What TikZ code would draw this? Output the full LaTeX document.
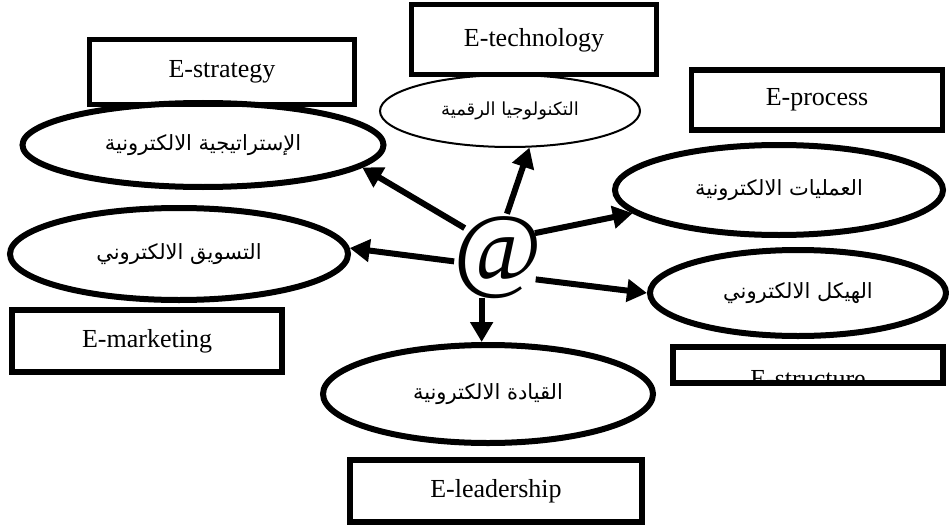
\documentclass[tikz,border=0pt]{standalone}
\usepackage{fontspec}
\setmainfont{Liberation Serif}
\newfontfamily\arabicfont[Script=Arabic]{DejaVu Sans}
\TeXXeTstate=1
\usetikzlibrary{positioning,arrows.meta,shapes.geometric}
\tikzset{
  ebox/.style={draw=black, line width=5.5pt, inner sep=0pt, font=\fontsize{26}{30}\selectfont},
  eell/.style={ellipse, draw=black, line width=6pt, inner sep=0pt, font={\arabicfont\fontsize{21}{25}\selectfont}},
  arr/.style={-{Triangle[length=20pt,width=22pt]}, line width=6pt, shorten <=4pt},
}

\begin{document}
\begin{tikzpicture}[x=1pt,y=-1pt]
    \useasboundingbox (0,0) rectangle (949,524);
    % english boxes
    \node[ebox, minimum width=265pt, minimum height=65pt] (estrat) at (222,72) {E-strategy};
    \node[ebox, line width=5pt, minimum width=245pt, minimum height=70pt] (etech) at (534,40) {E-technology};
    \node[ebox, minimum width=251pt, minimum height=60pt] (eproc) at (817,100) {E-process};
    \node[ebox, minimum width=270pt, minimum height=62pt] (emark) at (147,341) {E-marketing};
    \node[ebox, minimum width=292pt, minimum height=62pt] (elead) at (496,491) {E-leadership};
    \node[ebox, minimum width=270pt, minimum height=36pt] (estruc) at (808,365) {};
    \begin{scope}
      \clip (estruc.south west) rectangle (estruc.north east);
      \node[font=\fontsize{26}{30}\selectfont, anchor=base] (estructxt) at (808,387) {E-structure};
    \end{scope}
    % arabic ellipses
    \node[eell, minimum width=361pt, minimum height=84pt] (strat) at (203,145) {\beginR الإستراتيجية الالكترونية\endR};
    \node[eell, line width=2pt, minimum width=260pt, minimum height=72pt, font={\arabicfont\fontsize{18}{21}\selectfont}] (tech) at (510,111) {\beginR التكنولوجيا الرقمية\endR};
    \node[eell, minimum width=328pt, minimum height=90pt] (proc) at (779,190) {\beginR العمليات الالكترونية\endR};
    \node[eell, minimum width=296pt, minimum height=86pt] (struc) at (798,293) {\beginR الهيكل الالكتروني\endR};
    \node[eell, minimum width=338pt, minimum height=92pt] (mark) at (179,254) {\beginR التسويق الالكتروني\endR};
    \node[eell, minimum width=330pt, minimum height=98pt] (lead) at (488,394) {\beginR القيادة الالكترونية\endR};
    % centre
    \node[circle, inner sep=0pt, minimum size=80pt, font=\fontsize{96}{96}\selectfont\itshape] (atsign) at (498,257)
      {\smash{\makebox[0pt]{\raisebox{-0.24em}{@}}}};
    \draw[arr] (atsign.138) -- (strat.-8);
    \draw[arr] (atsign.79) -- (tech.-62);
    \draw[arr] (atsign.35) -- (proc.189);
    \draw[arr] (atsign.187) -- (mark.2);
    \draw[arr] (atsign.-33) -- (struc.180);
    \draw[arr] (atsign.246) -- (atsign.246 |- lead.north);
\end{tikzpicture}
\end{document}
